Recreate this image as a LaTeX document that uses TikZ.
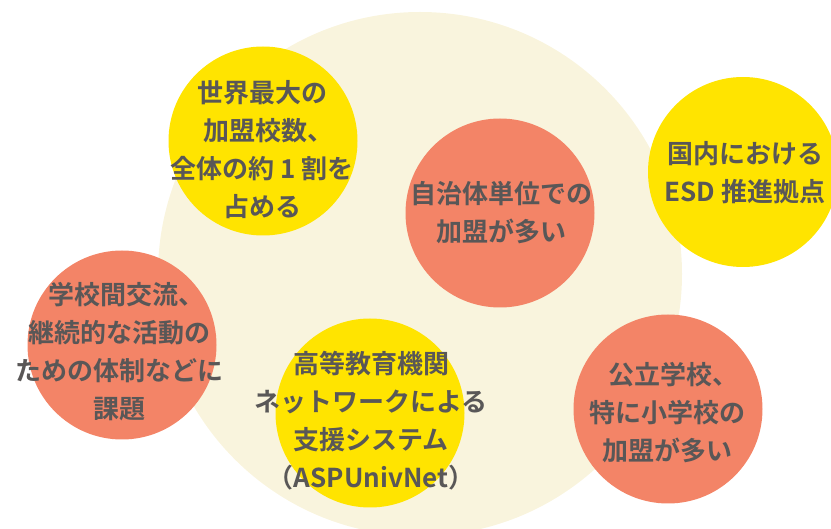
\documentclass[tikz,border=0pt]{standalone}
\usepackage{fontspec}
\setmainfont{Noto Sans CJK JP}[BoldFont={* Bold}]
\definecolor{pale}{HTML}{F9F4DD}
\definecolor{yel}{HTML}{FFE400}
\definecolor{coral}{HTML}{F38467}
\definecolor{txt}{HTML}{595757}
\newcommand{\tc}{、\kern-0.5em}
\tikzset{
  lbl/.style={align=center, text=txt, font=\fontsize{26}{38}\selectfont\bfseries, inner sep=0pt},
}
\begin{document}
\begin{tikzpicture}[x=1pt,y=-1pt]
\useasboundingbox (0,0) rectangle (831,529);
\begin{scope}
\clip (0,0) rectangle (831,529);
\fill[pale] (420,274) circle (262);
\fill[yel] (263,141) circle (94.5);
\fill[coral] (500,213) circle (94.5);
\fill[yel] (743,172) circle (95);
\fill[coral] (122,345) circle (94.5);
\fill[yel] (370,413) circle (94.5);
\fill[coral] (668,409) circle (94.5);
\end{scope}
\node[lbl] (t1) at (262,150) {世界最大の\\加盟校数\tc\\全体の約 1 割を\\占める};
\node[lbl] (t2) at (501,213) {自治体単位での\\加盟が多い};
\node[lbl] (t3) at (745,173) {国内における\\ESD 推進拠点};
\node[lbl] (t4) at (120,352) {学校間交流\tc\\継続的な活動の\\ための体制などに\\課題};
\node[lbl] (t5) at (371,421) {高等教育機関\\ネットワークによる\\支援システム\\（ASPUnivNet）};
\node[lbl] (t6) at (667,413) {公立学校\tc\\特に小学校の\\加盟が多い};
\end{tikzpicture}
\end{document}
